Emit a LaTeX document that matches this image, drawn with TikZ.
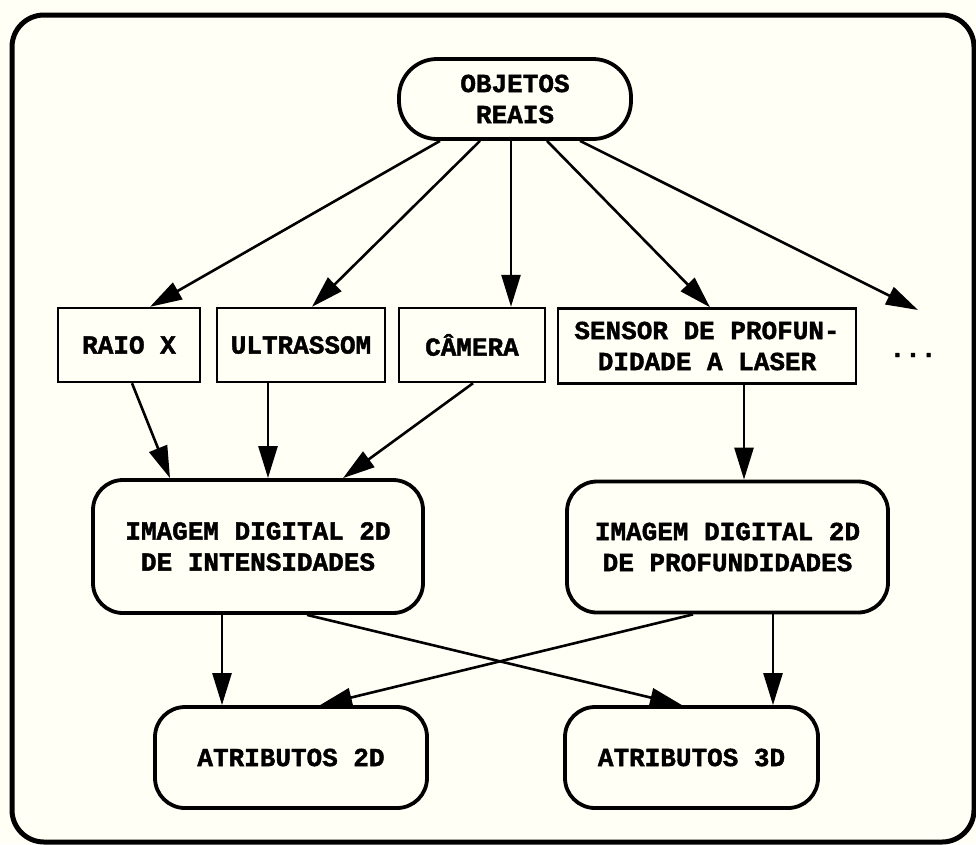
\documentclass[tikz,border=0pt]{standalone}
\usepackage{fontspec}
\setmonofont{Liberation Mono}
\newfontfamily\labelfont{Liberation Mono}[BoldFeatures={FakeBold=1.6}]
\usetikzlibrary{arrows.meta}
\definecolor{paper}{HTML}{FFFFF5}
\begin{document}
\begin{tikzpicture}[x=1pt,y=-1pt,
  lbl/.style={font=\fontsize{26}{31}\selectfont\labelfont\bfseries, align=center, inner sep=0pt},
  roundbox/.style={lbl, draw, line width=3.8pt, rounded corners=30pt},
  squarebox/.style={lbl, draw, line width=2.4pt},
  arr/.style={line width=2.6pt, -{Triangle[length=32pt,width=19pt]}}]
  % page and outer frame
  \useasboundingbox (0,0) rectangle (976,844);
  \fill[paper] (0,0) rectangle (976,844);
  \draw[line width=5pt, rounded corners=32pt] (12,15) rectangle (974,842);

  % source
  \node[roundbox, rounded corners=38pt, minimum width=232pt, minimum height=80pt] (obj) at (515,99) {OBJETOS\\REAIS};

  % acquisition devices
  \node[squarebox, minimum width=142pt, minimum height=74pt] (raio)   at (129,345) {RAIO X};
  \node[squarebox, minimum width=168pt, minimum height=74pt] (ultra)  at (301,345) {ULTRASSOM};
  \node[squarebox, minimum width=146pt, minimum height=74pt] (cam)    at (472,345) {CÂMERA};
  \node[squarebox, minimum width=298pt, minimum height=75pt] (sensor) at (707,346) {SENSOR DE PROFUN-\\DIDADE A LASER};
  \node[lbl, anchor=base] (dots) at (913,357) {...};
  \coordinate (more) at (918,310);

  % digital images
  \node[roundbox, minimum width=330pt, minimum height=133pt] (img1) at (258,546.5) {IMAGEM DIGITAL 2D\\DE INTENSIDADES};
  \node[roundbox, minimum width=321pt, minimum height=131pt] (img2) at (727.5,547) {IMAGEM DIGITAL 2D\\DE PROFUNDIDADES};

  % attributes
  \node[roundbox, minimum width=272pt, minimum height=101pt] (atr2) at (291,757.5) {ATRIBUTOS 2D};
  \node[roundbox, minimum width=253pt, minimum height=101pt] (atr3) at (691.5,757.5) {ATRIBUTOS 3D};

  % objects -> devices
  \draw[arr] ([xshift=-75pt]obj.south) -- ([xshift=21pt]raio.north);
  \draw[arr] ([xshift=-35pt]obj.south) -- ([xshift=11pt]ultra.north);
  \draw[arr] ([xshift=-4pt]obj.south) -- ([xshift=39pt]cam.north);
  \draw[arr] ([xshift=32pt]obj.south) -- ([xshift=3pt]sensor.north);
  \draw[arr] ([xshift=65pt]obj.south) -- (more);

  % devices -> images
  \draw[arr] ([xshift=3pt]raio.south) -- ([xshift=-88pt]img1.north);
  \draw[arr] ([xshift=-33pt]ultra.south) -- ([xshift=-33pt]img1.north -| ultra.south);
  \draw[arr] ([xshift=1pt]cam.south) -- ([xshift=85pt]img1.north);
  \draw[arr] ([xshift=37pt]sensor.south) -- ([xshift=16.5pt]img2.north);

  % images -> attributes
  \draw[arr] ([xshift=-36pt]img1.south) -- ([xshift=-69pt]atr2.north);
  \draw[arr] ([xshift=49pt]img1.south) -- ([xshift=-9.5pt]atr3.north);
  \draw[arr] ([xshift=-34.5pt]img2.south) -- ([xshift=29pt]atr2.north);
  \draw[arr] ([xshift=45.5pt]img2.south) -- ([xshift=81.5pt]atr3.north);
\end{tikzpicture}
\end{document}
